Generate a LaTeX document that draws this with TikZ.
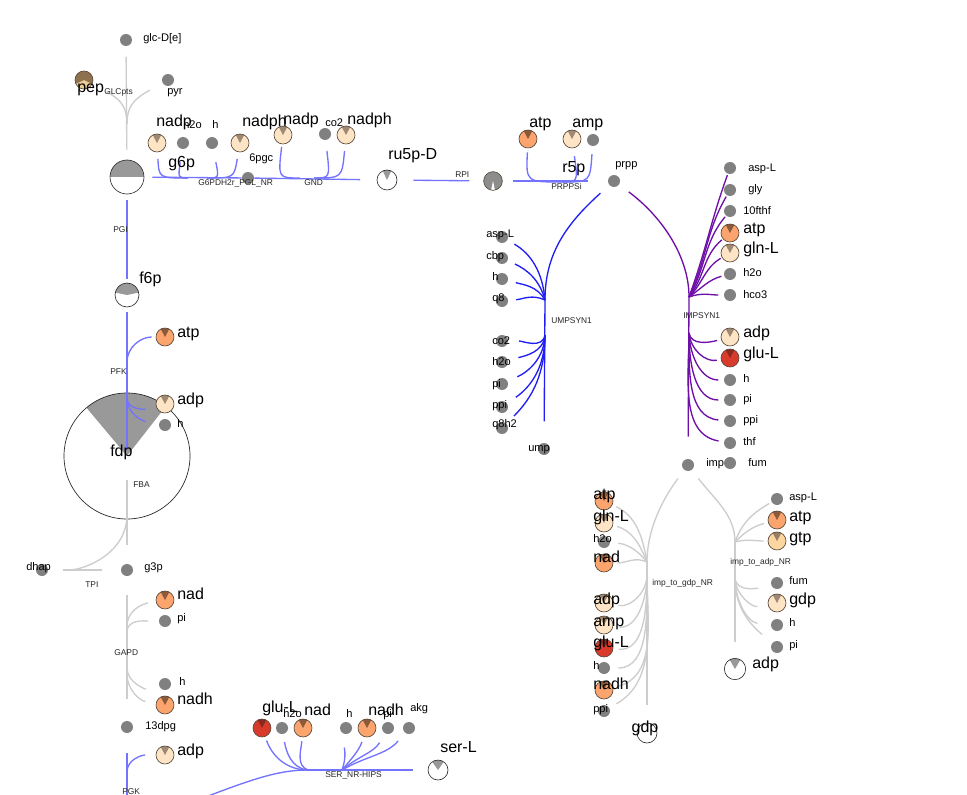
\documentclass[tikz,border=0pt]{standalone}
\usepackage{fontspec}
\setmainfont{Liberation Sans}
\pgfdeclarelayer{bottom}
\pgfdeclarelayer{bg}
\pgfsetlayers{bottom,bg,main}
\definecolor{dotgray}{HTML}{808080}
\definecolor{cream}{HTML}{FDE4C4}
\definecolor{creamW}{HTML}{9E8A74}
\definecolor{orng}{HTML}{FBA46E}
\definecolor{orngW}{HTML}{8A5A3A}
\definecolor{redc}{HTML}{D83B2B}
\definecolor{redW}{HTML}{8A2A1E}
\definecolor{gtpc}{HTML}{FCD5A0}
\definecolor{gtpW}{HTML}{96805F}
\definecolor{pepc}{HTML}{EBCB98}
\definecolor{pepW}{HTML}{8E7250}
\definecolor{metB}{HTML}{5A4A3C}
\definecolor{rxnB}{HTML}{7373FF}
\definecolor{rxnU}{HTML}{1F1FF5}
\definecolor{rxnP}{HTML}{6E0FA8}
\definecolor{rxnG}{HTML}{CDCDCD}
\definecolor{pieg}{HTML}{999999}
\begin{document}
\begin{tikzpicture}[x=0.75pt,y=-0.75pt,
  gdot/.style={circle,fill=dotgray,minimum size=9pt,inner sep=0pt},
  wedge/.style n args={4}{path picture={\fill[#1] (path picture bounding box.center) -- ++(#2:#4) arc[start angle=#2,end angle=#3,radius=#4] -- cycle;}},
  met/.style 2 args={circle,draw=metB,line width=0.5pt,fill=#1,minimum size=13.5pt,inner sep=0pt,wedge={#2}{62}{118}{7pt}},
  orM/.style={met={orng}{orngW}},
  crM/.style={met={cream}{creamW}},
  rdM/.style={met={redc}{redW}},
  gtM/.style={met={gtpc}{gtpW}},
  brM/.style={circle,draw=metB,line width=0.5pt,fill=pepc,minimum size=13.5pt,inner sep=0pt,wedge={pepW}{-25}{205}{7pt}},
  pie/.style={circle,draw=black!85,line width=0.45pt,fill=white,inner sep=0pt},
  lbig/.style={anchor=west,inner sep=0pt,font=\fontsize{12}{12}\selectfont,text height=0.7em,text depth=0pt},
  lbigc/.style={inner sep=0pt,font=\fontsize{12}{12}\selectfont,text height=0.7em,text depth=0pt},
  lsm/.style={anchor=west,inner sep=0pt,font=\fontsize{8.3}{8.3}\selectfont,text height=0.7em,text depth=0pt},
  lrx/.style={anchor=west,inner sep=0pt,font=\fontsize{6.3}{6.3}\selectfont,text height=0.7em,text depth=0pt,text=black!85},
  rxB/.style={draw=rxnB,line width=1pt},
  rxU/.style={draw=rxnU,line width=1pt},
  rxP/.style={draw=rxnP,line width=1pt},
  rxG/.style={draw=rxnG,line width=1pt}
]
\useasboundingbox (0,0) rectangle (967,795);
\begin{pgfonlayer}{bottom}
\fill[white] (0,0) rectangle (967,795);
\end{pgfonlayer}

% ---------- top-left: GLCpts ----------
\node[gdot] (glc) at (126,40) {};
\node[lsm] (Lglc) at (143,37) {glc-D[e]};
\node[brM] (pep) at (84,80) {};
\node[gdot] (pyr) at (168,80) {};
\node[lsm] (Lpyr) at (167,90) {pyr};
\node[pie,minimum size=25.5pt,wedge={pieg}{0}{180}{14pt}] (g6p) at (127,177) {};
\node[lbig] (Lpep) at (77,88) {pep};
\node[lrx] (Lglcpts) at (104,90) {GLCpts};
\node[lbig] (Lg6p) at (168,163) {g6p};

% ---------- G6PDH2r_PGL_NR ----------
\node[gdot] (pgc) at (248,178) {};
\node[lsm] (Lpgc) at (249,157) {6pgc};
\node[crM] (nadpA) at (157,143) {};
\node[gdot] (h2oA) at (183,143) {};
\node[gdot] (hA) at (212,143) {};
\node[crM] (nadphA) at (240,143) {};
\node[lsm] (Lh2oA) at (183,124) {h2o};
\node[lbig] (LnadpA) at (156,122) {nadp};
\node[lsm] (LhA) at (212,124) {h};
\node[lbig] (LnadphA) at (242,122) {nadph};
\node[lrx] (Lg6pdh) at (198,181) {G6PDH2r\_PGL\_NR};
\coordinate (jG1) at (188,178);
\coordinate (jG2) at (207,178);

% ---------- GND ----------
\node[crM] (nadpB) at (283,135) {};
\node[gdot] (co2B) at (325,134) {};
\node[crM] (nadphB) at (346,135) {};
\node[lbig] (LnadpB) at (283,120) {nadp};
\node[lsm] (Lco2B) at (325,122) {co2};
\node[lbig] (LnadphB) at (347,120) {nadph};
\node[lrx] (Lgnd) at (304,181) {GND};
\coordinate (jN1) at (300,178);
\coordinate (jN2) at (314,178);
\node[pie,minimum size=15pt,wedge={pieg}{65}{115}{8pt}] (ru5p) at (387,180) {};
\node[lbig] (Lru5p) at (388,155) {ru5p-D};

% ---------- RPI / PRPPSi ----------
\node[circle,draw=metB,line width=0.5pt,fill=dotgray!90,minimum size=14pt,inner sep=0pt,wedge={white}{258}{282}{8pt}] (r5p) at (493,181) {};
\node[lrx] (Lrpi) at (455,173) {RPI};
\node[lbig] (Lr5p) at (562,168) {r5p};
\node[orM] (atpC) at (528,139) {};
\node[crM] (ampC) at (572,139) {};
\node[gdot] (hC) at (593,140) {};
\node[lbig] (LatpC) at (529,123) {atp};
\node[lbig] (LampC) at (572,123) {amp};
\node[gdot] (prpp) at (614,181) {};
\node[lsm] (Lprpp) at (615,163) {prpp};
\node[lrx] (Lprppsi) at (551,185) {PRPPSi};
\coordinate (jP1) at (562,182);

% ---------- UMPSYN1 ----------
\coordinate (jU1) at (545,300);
\coordinate (jU2) at (545,335);
\node[gdot] (aspU) at (502,237) {};
\node[gdot] (cbpU) at (502,258) {};
\node[gdot] (hU) at (502,279) {};
\node[gdot] (q8U) at (502,301) {};
\node[gdot] (co2U) at (502,341) {};
\node[gdot] (h2oU) at (502,362) {};
\node[gdot] (piU) at (502,384) {};
\node[gdot] (ppiU) at (502,407) {};
\node[gdot] (q8h2U) at (502,428) {};
\node[gdot] (ump) at (544,449) {};
\node[lsm] (LaspU) at (486,233) {asp-L};
\node[lsm] (LcbpU) at (486,255) {cbp};
\node[lsm] (LhU) at (492,276) {h};
\node[lsm] (Lq8U) at (492,297) {q8};
\node[lsm] (Lco2U) at (492,340) {co2};
\node[lsm] (Lh2oU) at (492,361) {h2o};
\node[lsm] (LpiU) at (492,383) {pi};
\node[lsm] (LppiU) at (492,404) {ppi};
\node[lsm] (Lq8h2U) at (492,423) {q8h2};
\node[lsm] (Lump) at (528,447) {ump};
\node[lrx] (Lumpsyn) at (551,319) {UMPSYN1};

% ---------- IMPSYN1 ----------
\coordinate (jI1) at (689,297);
\coordinate (jI2) at (689,333);
\node[gdot] (aspI) at (730,168) {};
\node[gdot] (glyI) at (730,190) {};
\node[gdot] (fthfI) at (730,211) {};
\node[orM] (atpI) at (730,233) {};
\node[crM] (glnI) at (730,253) {};
\node[gdot] (h2oI) at (730,274) {};
\node[gdot] (hco3I) at (730,295) {};
\node[crM] (adpI) at (730,337) {};
\node[rdM] (gluI) at (730,358) {};
\node[gdot] (hI) at (730,380) {};
\node[gdot] (piI) at (730,400) {};
\node[gdot] (ppiI) at (730,421) {};
\node[gdot] (thfI) at (730,443) {};
\node[gdot] (fumI) at (730,463) {};
\node[gdot] (imp) at (688,465) {};
\node[lsm] (LaspI) at (748,167) {asp-L};
\node[lsm] (LglyI) at (748,188) {gly};
\node[lsm] (LfthfI) at (743,210) {10fthf};
\node[lbig] (LatpI) at (743,229) {atp};
\node[lbig] (LglnI) at (743,249) {gln-L};
\node[lsm] (Lh2oI) at (743,272) {h2o};
\node[lsm] (Lhco3I) at (743,294) {hco3};
\node[lbig] (LadpI) at (743,333) {adp};
\node[lbig] (LgluI) at (743,354) {glu-L};
\node[lsm] (LhI) at (743,378) {h};
\node[lsm] (LpiI) at (743,398) {pi};
\node[lsm] (LppiI) at (743,419) {ppi};
\node[lsm] (LthfI) at (743,441) {thf};
\node[lsm] (LfumI) at (748,462) {fum};
\node[lsm] (Limp) at (706,462) {imp};
\node[lrx] (Limpsyn) at (683,314) {IMPSYN1};

% ---------- imp_to_gdp_NR ----------
\coordinate (jQ1) at (647,562);
\coordinate (jQ2) at (647,575);
\node[orM] (atpQ) at (604,501) {};
\node[crM] (glnQ) at (604,523) {};
\node[gdot] (h2oQ) at (604,542) {};
\node[orM] (nadQ) at (604,563) {};
\node[crM] (adpQ) at (604,603) {};
\node[crM] (ampQ) at (604,625) {};
\node[rdM] (gluQ) at (604,648) {};
\node[gdot] (hQ) at (604,668) {};
\node[orM] (nadhQ) at (604,690) {};
\node[gdot] (ppiQ) at (604,711) {};
\node[pie,minimum size=15pt] (gdpQ) at (647,733) {};
\node[lbig] (LatpQ) at (593,495) {atp};
\node[lbig] (LglnQ) at (593,517) {gln-L};
\node[lsm] (Lh2oQ) at (593,538) {h2o};
\node[lbig] (LnadQ) at (593,558) {nad};
\node[lbig] (LadpQ) at (593,600) {adp};
\node[lbig] (LampQ) at (593,622) {amp};
\node[lbig] (LgluQ) at (593,643) {glu-L};
\node[lsm] (LhQ) at (593,665) {h};
\node[lbig] (LnadhQ) at (593,685) {nadh};
\node[lsm] (LppiQ) at (593,708) {ppi};
\node[lbigc] (LgdpQ) at (645,728) {gdp};
\node[lrx] (Limpgdp) at (652,581) {imp\_to\_gdp\_NR};

% ---------- imp_to_adp_NR ----------
\coordinate (jA1) at (735,542);
\coordinate (jA2) at (735,578);
\node[gdot] (aspA) at (777,499) {};
\node[orM] (atpA) at (777,520) {};
\node[gtM] (gtpA) at (777,541) {};
\node[gdot] (fumA) at (777,583) {};
\node[crM] (gdpA) at (777,603) {};
\node[gdot] (hA2) at (777,625) {};
\node[gdot] (piA) at (777,647) {};
\node[pie,minimum size=16pt,wedge={pieg}{60}{120}{9pt}] (adpA) at (735,669) {};
\node[lsm] (LaspA) at (789,496) {asp-L};
\node[lbig] (LatpA) at (789,517) {atp};
\node[lbig] (LgtpA) at (789,538) {gtp};
\node[lsm] (LfumA) at (789,580) {fum};
\node[lbig] (LgdpA) at (789,600) {gdp};
\node[lsm] (LhA2) at (789,622) {h};
\node[lsm] (LpiA) at (789,644) {pi};
\node[lbig] (LadpA) at (752,664) {adp};
\node[lrx] (Limpadp) at (730,560) {imp\_to\_adp\_NR};

% ---------- glycolysis column ----------
\node[pie,minimum size=18pt,wedge={pieg}{12}{168}{10pt}] (f6p) at (127,295) {};
\node[lrx] (Lpgi) at (113,228) {PGI};
\node[lbig] (Lf6p) at (139,279) {f6p};
\begin{pgfonlayer}{bottom}
\node[pie,line width=0.5pt,minimum size=94.5pt,wedge={pieg}{52}{130}{50pt}] (fdp) at (127,456) {};
\end{pgfonlayer}
\node[orM] (atpF) at (165,337) {};
\node[crM] (adpF) at (165,404) {};
\node[gdot] (hF) at (165,425) {};
\node[lbig] (LatpF) at (177,333) {atp};
\node[lbig] (LadpF) at (177,400) {adp};
\node[lsm] (LhF) at (177,423) {h};
\node[lrx] (Lpfk) at (110,370) {PFK};
\node[lbig] (Lfdp) at (110,452) {fdp};
\coordinate (jF1) at (127,362);
\coordinate (jF2) at (127,398);
\node[gdot] (g3p) at (127,570) {};
\node[gdot] (dhap) at (42,570) {};
\coordinate (jFBA) at (127,515);
\node[lrx] (Lfba) at (133,483) {FBA};
\node[lsm] (Ldhap) at (26,566) {dhap};
\node[lsm] (Lg3p) at (144,566) {g3p};
\node[lrx] (Ltpi) at (85,583) {TPI};
\node[gdot] (dpg) at (127,727) {};
\node[orM] (nadG) at (165,600) {};
\node[gdot] (piG) at (165,621) {};
\node[gdot] (hG) at (165,684) {};
\node[orM] (nadhG) at (165,705) {};
\node[lbig] (LnadG) at (177,595) {nad};
\node[lsm] (LpiG) at (177,617) {pi};
\node[lrx] (Lgapd) at (114,651) {GAPD};
\node[lsm] (LhG) at (179,681) {h};
\node[lbig] (LnadhG) at (177,700) {nadh};
\node[lsm] (Ldpg) at (145,725) {13dpg};
\coordinate (jGA1) at (127,626);
\coordinate (jGA2) at (127,632);
\coordinate (jGA3) at (127,668);
\coordinate (jGA4) at (127,674);
\node[crM] (adpG) at (165,755) {};
\node[lbig] (LadpG) at (177,751) {adp};
\node[lrx] (Lpgk) at (122,790) {PGK};
\coordinate (jPGK) at (127,772);
\coordinate (pgkEnd) at (127,798);

% ---------- SER_NR-HIPS ----------
\coordinate (serStart) at (203,798);
\coordinate (jS1) at (308,770);
\coordinate (jS2) at (342,770);
\node[pie,minimum size=15pt,wedge={pieg}{55}{125}{8pt}] (serL) at (438,770) {};
\node[rdM] (gluS) at (262,728) {};
\node[gdot] (h2oS) at (282,728) {};
\node[orM] (nadS) at (303,728) {};
\node[gdot] (hS) at (346,728) {};
\node[orM] (nadhS) at (367,728) {};
\node[gdot] (piS) at (388,728) {};
\node[gdot] (akgS) at (409,728) {};
\node[lsm] (Lh2oS) at (283,713) {h2o};
\node[lbig] (LgluS) at (262,708) {glu-L};
\node[lbig] (LnadS) at (304,711) {nad};
\node[lsm] (LhS) at (346,713) {h};
\node[lsm] (LpiS) at (383,713) {pi};
\node[lbig] (LnadhS) at (368,711) {nadh};
\node[lsm] (LakgS) at (410,707) {akg};
\node[lbig] (LserL) at (440,748) {ser-L};
\node[lrx] (Lser) at (325,773) {SER\_NR-HIPS};

% ================= connectors =================
\begin{pgfonlayer}{bg}
% GLCpts
\draw[rxG, shorten <=8pt, shorten >=7.5pt] (glc) -- (g6p);
\coordinate (jGLC) at (127,124);
\draw[rxG, shorten <=12pt] (pep) .. controls (122,100) and (127,108) .. (jGLC);
\draw[rxG, shorten <=11pt] (pyr) .. controls (132,100) and (127,108) .. (jGLC);
% G6PDH2r
\draw[rxB, shorten <=6pt] (g6p) -- (pgc);
\draw[rxB, shorten <=5pt] (nadpA) .. controls (159,178) .. (jG1);
\draw[rxB, shorten <=10pt] (h2oA) .. controls (178,178) .. (jG1);
\draw[rxB, shorten <=10pt] (hA) .. controls (219,178) .. (jG2);
\draw[rxB, shorten <=5pt] (nadphA) .. controls (234,178) .. (jG2);
% GND
\draw[rxB, shorten >=12.5pt] (pgc) -- (ru5p);
\draw[rxB, shorten <=2pt] (nadpB) .. controls (278,178) .. (jN1);
\draw[rxB, shorten <=8pt] (co2B) .. controls (330,178) .. (jN2);
\draw[rxB, shorten <=5pt] (nadphB) .. controls (342,178) .. (jN2);
% RPI, PRPPSi
\draw[rxB, shorten <=12pt, shorten >=10.5pt] (ru5p) -- (r5p);
\draw[rxB, shorten <=7.5pt, shorten >=15pt] (r5p) -- (prpp);
\draw[rxB, shorten <=3pt] (atpC) .. controls (526,182) .. (jP1);
\draw[rxB, shorten <=6pt] (ampC) .. controls (578,182) .. (jP1);
\draw[rxB, shorten <=6pt] (hC) .. controls (590,182) .. (jP1);
% UMPSYN1
\draw[rxU, shorten <=9pt] (prpp) .. controls (565,225) and (545,255) .. (jU1);
\draw[rxU, shorten >=16pt] (jU1) -- (ump);
\draw[rxU, shorten <=6pt] (aspU) to[out=-30,in=95] (jU1);
\draw[rxU, shorten <=6pt] (cbpU) to[out=-25,in=105] (jU1);
\draw[rxU, shorten <=6pt] (hU) to[out=-15,in=120] (jU1);
\draw[rxU, shorten <=6pt] (q8U) to[out=5,in=155] (jU1);
\draw[rxU, shorten >=8pt] (jU2) to[out=-100,in=0] (co2U);
\draw[rxU, shorten >=8pt] (jU2) to[out=-95,in=15] (h2oU);
\draw[rxU, shorten >=8pt] (jU2) to[out=-92,in=25] (piU);
\draw[rxU, shorten >=8pt] (jU2) to[out=-90,in=35] (ppiU);
\draw[rxU, shorten >=8pt] (jU2) to[out=-90,in=45] (q8h2U);
% IMPSYN1
\draw[rxP, shorten <=9pt] (prpp) .. controls (660,215) and (689,255) .. (jI1);
\draw[rxP, shorten >=16.5pt] (jI1) -- (imp);
\draw[rxP, shorten <=1pt] (aspI) to[out=-110,in=70] (jI1);
\draw[rxP, shorten <=1pt] (glyI) to[out=-120,in=65] (jI1);
\draw[rxP, shorten <=1pt] (fthfI) to[out=-130,in=60] (jI1);
\draw[rxP, shorten <=1pt] (atpI) to[out=-140,in=52] (jI1);
\draw[rxP, shorten <=1pt] (glnI) to[out=-150,in=45] (jI1);
\draw[rxP, shorten <=2pt] (h2oI) to[out=-165,in=35] (jI1);
\draw[rxP, shorten <=4pt] (hco3I) to[out=180,in=20] (jI1);
\draw[rxP, shorten >=3pt] (jI2) to[out=-80,in=-165] (adpI);
\draw[rxP, shorten >=3pt] (jI2) to[out=-85,in=-170] (gluI);
\draw[rxP, shorten >=4pt] (jI2) to[out=-88,in=180] (hI);
\draw[rxP, shorten >=4pt] (jI2) to[out=-90,in=180] (piI);
\draw[rxP, shorten >=4pt] (jI2) to[out=-90,in=175] (ppiI);
\draw[rxP, shorten >=4pt] (jI2) to[out=-90,in=170] (thfI);
% imp_to_gdp_NR
\draw[rxG, shorten <=8pt] (imp) .. controls (662,500) and (647,530) .. (jQ1);
\draw[rxG, shorten >=13.5pt] (jQ1) -- (gdpQ);
\draw[rxG, shorten <=3pt] (atpQ) to[out=-25,in=100] (jQ1);
\draw[rxG, shorten <=3pt] (glnQ) to[out=-15,in=112] (jQ1);
\draw[rxG, shorten <=6pt] (h2oQ) to[out=-5,in=128] (jQ1);
\draw[rxG, shorten <=3pt] (nadQ) to[out=0,in=155] (jQ1);
\draw[rxG, shorten >=4pt] (jQ2) to[out=-90,in=-10] (adpQ);
\draw[rxG, shorten >=4pt] (jQ2) to[out=-90,in=-8] (ampQ);
\draw[rxG, shorten >=4pt] (jQ2) to[out=-90,in=-5] (gluQ);
\draw[rxG, shorten >=6pt] (jQ2) to[out=-90,in=0] (hQ);
\draw[rxG, shorten >=4pt] (jQ2) to[out=-90,in=15] (nadhQ);
\draw[rxG, shorten >=6pt] (jQ2) to[out=-90,in=30] (ppiQ);
% imp_to_adp_NR
\draw[rxG, shorten <=8pt] (imp) .. controls (715,500) and (735,515) .. (jA1);
\draw[rxG, shorten >=12pt] (jA1) -- (adpA);
\draw[rxG, shorten <=2pt] (aspA) to[out=-150,in=70] (jA1);
\draw[rxG, shorten <=3pt] (atpA) to[out=-165,in=45] (jA1);
\draw[rxG, shorten <=3pt] (gtpA) to[out=180,in=15] (jA1);
\draw[rxG, shorten >=10pt] (jA2) to[out=-85,in=-165] (fumA);
\draw[rxG, shorten >=8pt] (jA2) to[out=-88,in=-170] (gdpA);
\draw[rxG, shorten >=10pt] (jA2) to[out=-90,in=175] (hA2);
\draw[rxG, shorten >=10pt] (jA2) to[out=-90,in=140] (piA);
% glycolysis
\draw[rxB, shorten <=4.5pt, shorten >=3pt] (g6p) -- (f6p);
\draw[rxB, shorten <=3.75pt, shorten >=4.5pt] (f6p) -- (fdp.center);
\draw[rxB, shorten <=3pt] (atpF) to[out=180,in=90] (jF1);
\draw[rxB, shorten >=8pt] (jF2) to[out=-90,in=-165] (adpF);
\draw[rxB, shorten >=10pt] (jF2) to[out=-90,in=170] (hF);
\draw[rxG, shorten <=18pt, shorten >=14pt] (fdp.center) -- (g3p);
\draw[rxG, shorten >=15pt] (jFBA) to[out=-90,in=0] (dhap);
\draw[rxG, shorten <=11pt, shorten >=14pt] (dhap) -- (g3p);
\draw[rxG, shorten <=14pt, shorten >=16pt] (g3p) -- (dpg);
\draw[rxG, shorten <=6pt] (nadG) to[out=-170,in=90] (jGA1);
\draw[rxG, shorten <=8pt] (piG) to[out=180,in=90] (jGA2);
\draw[rxG, shorten >=10pt] (jGA3) to[out=-90,in=-165] (hG);
\draw[rxG, shorten >=8pt] (jGA4) to[out=-90,in=170] (nadhG);
\draw[rxB, shorten <=15pt] (dpg) -- (pgkEnd);
\draw[rxB, shorten <=8pt] (adpG) to[out=180,in=90] (jPGK);
% SER_NR-HIPS
\draw[rxB] (serStart) .. controls (255,778) and (280,770) .. (jS1);
\draw[rxB, shorten >=11pt] (jS1) -- (serL);
\draw[rxB, shorten <=3pt] (gluS) to[out=-70,in=180] (jS1);
\draw[rxB, shorten <=6pt] (h2oS) to[out=-80,in=175] (jS1);
\draw[rxB, shorten <=3pt] (nadS) to[out=-95,in=160] (jS1);
\draw[rxB, shorten <=10pt] (hS) to[out=-95,in=70] (jS2);
\draw[rxB, shorten <=4pt] (nadhS) to[out=-110,in=50] (jS2);
\draw[rxB, shorten <=8pt] (piS) to[out=-120,in=40] (jS2);
\draw[rxB, shorten <=8pt] (akgS) to[out=-130,in=30] (jS2);
\end{pgfonlayer}
\end{tikzpicture}
\end{document}
